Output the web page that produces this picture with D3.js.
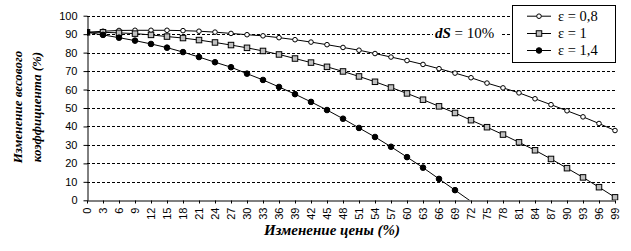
<!DOCTYPE html>
<html><head><meta charset="utf-8">
<script src="https://cdn.jsdelivr.net/npm/d3@7"></script>
<style>
body{margin:0;background:#fff;}
svg{display:block;}
.serif{font-family:'Liberation Serif','Times New Roman',serif;}
.sans{font-family:'Liberation Sans',Arial,sans-serif;}
</style></head>
<body>
<svg id="c" width="631" height="251"></svg>
<script>
const priceChange = [0,3,6,9,12,15,18,21,24,27,30,33,36,39,42,45,48,51,54,57,60,63,66,69,72,75,78,81,84,87,90,93,96,99];
const eps08 = [91.0,91.6,92.0,92.1,92.1,92.1,91.9,91.6,91.1,90.4,89.7,89.1,88.1,87.0,85.7,84.3,82.8,81.3,79.5,77.6,75.7,73.6,71.3,68.9,66.4,63.5,60.9,58.2,55.0,51.8,48.5,45.2,41.6,37.8];
const eps10 = [91.0,91.0,90.7,90.3,89.6,88.7,87.9,86.8,85.5,84.1,82.6,80.9,79.0,76.8,74.6,72.3,69.8,67.1,64.2,61.1,57.9,54.5,50.9,47.3,43.4,39.6,35.6,31.4,27.1,22.4,17.4,12.4,7.1,1.6];
const eps14 = [91.0,89.6,88.1,86.5,84.7,82.7,80.3,77.6,74.8,72.1,68.6,65.2,61.4,57.5,53.3,48.9,44.2,39.2,34.3,29.0,23.4,17.7,11.6,5.5,-0.6];
const yTicks = [0,10,20,30,40,50,60,70,80,90,100];
const seriesNames = ["ε = 0,8","ε = 1","ε = 1,4"];
const yTitle = ["Изменение весового","коэффициента (%)"];
const xTitle = "Изменение цены (%)";

const svg = d3.select("#c");
const L = 87, R = 615, T = 15.7, B = 200.3;
const x = d3.scaleLinear().domain([0,99]).range([L,R]);
const y = d3.scaleLinear().domain([0,100]).range([B,T]);

// gridlines
svg.append("g").selectAll("line").data(yTicks.filter(d=>d>0)).join("line")
  .attr("x1",L).attr("x2",R).attr("y1",d=>Math.round(y(d))+0.5).attr("y2",d=>Math.round(y(d))+0.5)
  .attr("stroke","#000").attr("stroke-width",1).attr("stroke-dasharray","3,2");

// y axis
const ya = svg.append("g").attr("transform",`translate(${L+0.5},0)`)
  .call(d3.axisLeft(y).tickValues(yTicks).tickSize(4).tickSizeOuter(0).tickPadding(6));
ya.attr("font-family",null);
ya.selectAll("text").attr("class","sans").attr("font-size","11px").attr("fill","#000");
ya.select(".domain").attr("stroke","#000");
ya.selectAll(".tick line").attr("stroke","#000");

// x axis
const xa = svg.append("g").attr("transform",`translate(0,${Math.round(B)+0.5})`)
  .call(d3.axisBottom(x).tickValues(priceChange).tickFormat(d3.format("d")).tickSize(3).tickSizeOuter(0));
xa.attr("font-family",null);
xa.selectAll(".tick line").attr("stroke","#000");
xa.select(".domain").attr("stroke","#000");
xa.selectAll("text").attr("class","sans")
  .attr("font-size","11px").attr("fill","#000")
  .attr("transform","rotate(-90)").attr("text-anchor","end")
  .attr("x",-7).attr("y",0).attr("dy","0.35em");

// clip
svg.append("clipPath").attr("id","pc").append("rect").attr("x",L).attr("y",T-5).attr("width",R-L+6).attr("height",B-T+5);

const line = d3.line().x((d,i)=>x(priceChange[i])).y(d=>y(d));
const g = svg.append("g").attr("clip-path","url(#pc)");
const series = [
  {vals:eps08, type:"circle", fill:"#fff", r:2.3},
  {vals:eps10, type:"square", fill:"#c0c0c0", s:5.5},
  {vals:eps14, type:"circle", fill:"#000", r:2.8}
];
series.forEach(s=>{
  g.append("path").attr("d",line(s.vals)).attr("fill","none").attr("stroke","#000").attr("stroke-width",1);
});
function drawMarker(sel, s, cx, cy){
  if(s.type==="circle"){
    sel.append("circle").attr("cx",cx).attr("cy",cy).attr("r",s.r).attr("fill",s.fill).attr("stroke","#000").attr("stroke-width",1);
  } else {
    sel.append("rect").attr("x",cx-s.s/2).attr("y",cy-s.s/2).attr("width",s.s).attr("height",s.s).attr("fill",s.fill).attr("stroke","#000").attr("stroke-width",1);
  }
}
series.forEach(s=>{
  s.vals.forEach((v,i)=>{ if(v>=0) drawMarker(g, s, x(priceChange[i]), y(v)); });
});

// dS label
svg.append("rect").attr("x",433).attr("y",25).attr("width",68).attr("height",15).attr("fill","#fff");
const ds = svg.append("text").attr("class","serif").attr("x",435).attr("y",38).attr("font-size","15px");
ds.append("tspan").attr("font-weight","bold").attr("font-style","italic").text("dS");
ds.append("tspan").text(" = 10%");

// legend
const lg = svg.append("g");
lg.append("rect").attr("x",512.5).attr("y",5.5).attr("width",103).attr("height",57).attr("fill","#fff").attr("stroke","#000").attr("stroke-width",1);
const rowsY = [15.7,33,50];
series.forEach((s,i)=>{
  lg.append("line").attr("x1",527).attr("x2",551).attr("y1",rowsY[i]+0.5).attr("y2",rowsY[i]+0.5).attr("stroke","#000");
  drawMarker(lg, s, 539, rowsY[i]+0.5);
  lg.append("text").attr("class","serif").attr("x",558).attr("y",rowsY[i]).attr("dy","0.35em")
    .attr("font-size","14.5px").text(seriesNames[i]);
});

// titles
svg.append("text").attr("class","serif").attr("x",332).attr("y",235).attr("text-anchor","middle")
  .attr("font-weight","bold").attr("font-style","italic")
  .attr("font-size","15px").text(xTitle);
[22,41].forEach((bx,i)=>{
  svg.append("text").attr("class","serif").attr("transform",`translate(${bx},107) rotate(-90)`).attr("text-anchor","middle")
    .attr("font-weight","bold").attr("font-style","italic")
    .attr("font-size","13px").text(yTitle[i]);
});
</script>
</body></html>
